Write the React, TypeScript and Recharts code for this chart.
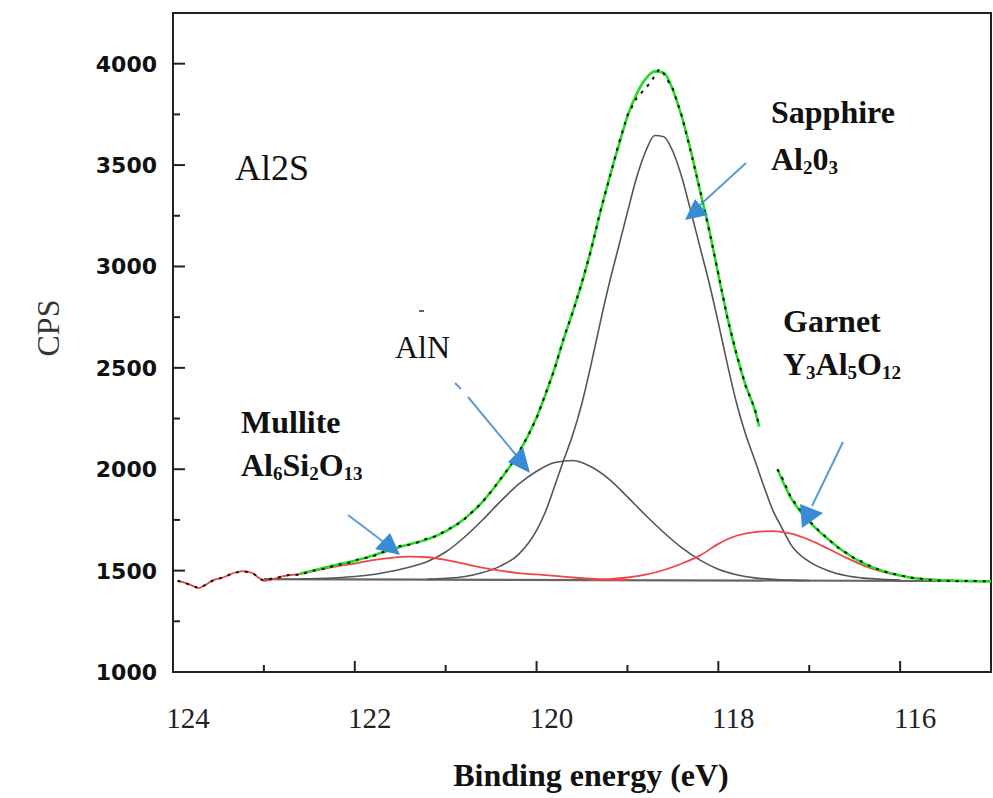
import { LineChart, Line, XAxis, YAxis, ReferenceArea } from "recharts";

// binding energy (eV), counts per second
const rawSpectrum: [number, number | null][] = [
  [123.95, 1450], [123.9, 1444], [123.8, 1428], [123.72, 1414], [123.65, 1428],
  [123.56, 1452], [123.45, 1466], [123.34, 1487], [123.23, 1497], [123.12, 1487],
  [123.05, 1462], [123.0, 1450], [122.9, 1462], [122.8, 1470], [122.7, 1482],
  [122.6, 1478], [122.5, 1496], [122.4, 1505], [122.3, 1512], [122.2, 1530],
  [122.1, 1531], [122.0, 1552], [121.9, 1560], [121.8, 1570], [121.7, 1590],
  [121.6, 1600], [121.5, 1622], [121.4, 1628], [121.3, 1640], [121.2, 1660],
  [121.1, 1670], [121.0, 1698], [120.9, 1720], [120.8, 1750], [120.7, 1793],
  [120.6, 1835], [120.5, 1890], [120.4, 1950], [120.3, 2010], [120.2, 2080],
  [120.1, 2160], [120.0, 2250], [119.9, 2375], [119.8, 2495], [119.7, 2650],
  [119.6, 2775], [119.5, 2925], [119.4, 3080], [119.3, 3270], [119.2, 3430],
  [119.1, 3600], [119.0, 3745], [118.9, 3830], [118.8, 3880], [118.75, 3905],
  [118.7, 3940], [118.65, 3975], [118.6, 3950], [118.5, 3875], [118.4, 3740],
  [118.3, 3560], [118.2, 3375], [118.1, 3175], [118.0, 2965], [117.9, 2745],
  [117.8, 2570], [117.7, 2410], [117.6, 2300], [117.55, 2215], [117.45, null],
  [117.35, 2000], [117.3, 1960], [117.2, 1860], [117.1, 1800], [117.0, 1745],
  [116.9, 1700], [116.8, 1660], [116.7, 1618], [116.6, 1590], [116.5, 1560],
  [116.4, 1540], [116.3, 1515], [116.2, 1500], [116.1, 1486], [116.0, 1478],
  [115.9, 1466], [115.8, 1462], [115.7, 1455], [115.6, 1452], [115.5, 1450],
  [115.4, 1448], [115.2, 1449], [115.0, 1447],
];

const envelope: [number, number | null][] = [
  [122.6, 1486], [122.4, 1507], [122.2, 1529], [122.0, 1548], [121.8, 1575],
  [121.6, 1603], [121.4, 1630], [121.2, 1655], [121.0, 1694], [120.8, 1753],
  [120.6, 1837], [120.4, 1948], [120.2, 2077], [120.0, 2255], [119.9, 2370],
  [119.8, 2500], [119.7, 2644], [119.6, 2780], [119.5, 2920], [119.4, 3085],
  [119.3, 3265], [119.2, 3435], [119.1, 3590], [119.0, 3740], [118.9, 3850],
  [118.8, 3925], [118.7, 3962], [118.6, 3955], [118.5, 3870], [118.4, 3735],
  [118.3, 3565], [118.2, 3370], [118.1, 3180], [118.0, 2960], [117.9, 2750],
  [117.8, 2565], [117.7, 2415], [117.6, 2294], [117.55, 2210], [117.45, null],
  [117.35, 2000], [117.2, 1857], [117.0, 1742], [116.8, 1658], [116.6, 1588],
  [116.4, 1535], [116.2, 1499], [116.0, 1476], [115.8, 1460], [115.6, 1453],
  [115.4, 1450], [115.2, 1448], [115.0, 1447],
];

const background: [number, number][] = [
  [123.0, 1458], [115.0, 1448],
];

const sapphire: [number, number][] = [
  [121.2, 1457], [121.0, 1462], [120.8, 1470], [120.6, 1489], [120.4, 1522],
  [120.2, 1579], [120.0, 1698], [119.9, 1793], [119.8, 1918], [119.7, 2047],
  [119.6, 2172], [119.5, 2327], [119.4, 2517], [119.3, 2722], [119.2, 2917],
  [119.1, 3092], [119.0, 3267], [118.9, 3437], [118.8, 3567], [118.7, 3646],
  [118.6, 3640], [118.5, 3567], [118.4, 3437], [118.3, 3267], [118.2, 3092],
  [118.1, 2917], [118.0, 2722], [117.9, 2517], [117.8, 2327], [117.7, 2172],
  [117.6, 2047], [117.5, 1917], [117.4, 1797], [117.3, 1710], [117.2, 1627],
  [117.0, 1544], [116.8, 1501], [116.6, 1476], [116.4, 1463], [116.2, 1457],
  [116.0, 1454],
];

const aln: [number, number][] = [
  [122.6, 1459], [122.4, 1461], [122.2, 1465], [122.0, 1471], [121.8, 1481],
  [121.6, 1497], [121.4, 1517], [121.2, 1545], [121.0, 1592], [120.8, 1662],
  [120.6, 1747], [120.4, 1840], [120.2, 1925], [120.0, 1990], [119.8, 2033],
  [119.6, 2043], [119.4, 2012], [119.2, 1950], [119.0, 1864], [118.8, 1773],
  [118.6, 1688], [118.4, 1612], [118.2, 1552], [118.0, 1507], [117.8, 1480],
  [117.6, 1464], [117.4, 1457], [117.2, 1453], [117.0, 1451],
];

const mullite: [number, number][] = [
  [123.95, 1450], [123.9, 1444], [123.8, 1428], [123.72, 1414], [123.65, 1428],
  [123.56, 1452], [123.45, 1466], [123.34, 1487], [123.23, 1497], [123.12, 1487],
  [123.05, 1462], [123.0, 1450], [122.9, 1458], [122.8, 1471], [122.6, 1484],
  [122.4, 1503], [122.2, 1521], [122.0, 1535], [121.8, 1552], [121.6, 1563],
  [121.4, 1569], [121.2, 1566], [121.0, 1553], [120.8, 1534], [120.6, 1515],
  [120.4, 1500], [120.2, 1488], [120.0, 1481], [119.8, 1474], [119.6, 1466],
  [119.4, 1460], [119.2, 1456], [119.0, 1454],
];

const garnet: [number, number][] = [
  [119.4, 1454], [119.2, 1458], [119.0, 1466], [118.8, 1480], [118.6, 1503],
  [118.4, 1535], [118.2, 1575], [118.0, 1632], [117.8, 1672], [117.6, 1690],
  [117.4, 1695], [117.2, 1682], [117.0, 1652], [116.8, 1610], [116.6, 1565],
  [116.4, 1525], [116.2, 1495], [116.0, 1475], [115.8, 1462], [115.6, 1455],
  [115.4, 1452],
];

const xTicks = [124, 123, 122, 121, 120, 119, 118, 117, 116, 115];
const yTicks = [1000, 1250, 1500, 1750, 2000, 2250, 2500, 2750, 3000, 3250, 3500, 3750, 4000];

const toPoints = (rows: [number, number | null][]) => rows.map(([ev, cps]) => ({ ev, cps }));

const serif = "'Liberation Serif', 'Times New Roman', serif";

function XTick(props: any) {
  const { x, y, payload } = props;
  const major = payload.value % 2 === 0;
  return (
    <g>
      <line x1={x} x2={x} y1={y} y2={y - (major ? 11 : 7)} stroke="#222" strokeWidth={2} />
      {major && (
        <text x={x + 15} y={y + 56} textAnchor="middle" fontFamily={serif} fontSize={29} fill="#222">
          {payload.value}
        </text>
      )}
    </g>
  );
}

function YTick(props: any) {
  const { x, y, payload } = props;
  const major = payload.value % 500 === 0;
  return (
    <g>
      <line x1={x} x2={x + (major ? 12 : 7)} y1={y} y2={y} stroke="#222" strokeWidth={2} />
      {major && (
        <text x={x - 16} y={y} dy="0.36em" textAnchor="end" fontFamily="'DejaVu Sans', sans-serif"
          fontWeight="bold" fontSize={22} fill="#111">
          {payload.value}
        </text>
      )}
    </g>
  );
}

function Sub({ children }: { children: string }) {
  return <tspan fontSize={19} dy={4}>{children}</tspan>;
}

function Arrow({ from, to, head }: { from: number[]; to: number[]; head: number[][] }) {
  return (
    <g>
      <line x1={from[0]} y1={from[1]} x2={to[0]} y2={to[1]} stroke="#5b9bd5" strokeWidth={2} />
      <polygon points={head.map((p) => p.join(",")).join(" ")} fill="#3a8ad6" />
    </g>
  );
}

function Annotations() {
  return (
    <svg width={993} height={798} style={{ position: "absolute", left: 0, top: 0, pointerEvents: "none" }}>
      <text x={48} y={328} transform="rotate(-90 48 328)" textAnchor="middle" dominantBaseline="central"
        fontFamily={serif} fontSize={32} fill="#333">CPS</text>
      <text x={591} y={786} textAnchor="middle" fontFamily={serif} fontWeight="bold" fontSize={32} fill="#111">
        Binding energy (eV)
      </text>

      <text x={235} y={180} fontFamily={serif} fontSize={36} fill="#111">Al2S</text>
      <text x={395} y={358} fontFamily={serif} fontSize={32} fill="#111">AlN</text>
      <line x1={419} y1={311} x2={424} y2={311} stroke="#333" strokeWidth={1.5} />

      <g fontFamily={serif} fontWeight="bold" fontSize={32} fill="#111">
        <text x={771} y={123}>Sapphire</text>
        <text x={771} y={170}>Al<Sub>2</Sub><tspan dy={-4}>0</tspan><Sub>3</Sub></text>
        <text x={783} y={332}>Garnet</text>
        <text x={783} y={375}>Y<Sub>3</Sub><tspan dy={-4}>Al</tspan><Sub>5</Sub><tspan dy={-4}>O</tspan><Sub>12</Sub></text>
        <text x={241} y={433}>Mullite</text>
        <text x={241} y={476}>Al<Sub>6</Sub><tspan dy={-4}>Si</tspan><Sub>2</Sub><tspan dy={-4}>O</tspan><Sub>13</Sub></text>
      </g>

      <Arrow from={[746, 163]} to={[699, 206]} head={[[685, 220], [708, 215], [695, 199]]} />
      <line x1={455} y1={383} x2={461} y2={389} stroke="#5b9bd5" strokeWidth={2} />
      <Arrow from={[468, 397]} to={[516, 455]} head={[[530, 473], [508, 462], [523, 447]]} />
      <Arrow from={[348, 515]} to={[385, 543]} head={[[400, 555], [375, 549], [390, 533]]} />
      <Arrow from={[843, 442]} to={[812, 506]} head={[[802, 528], [800, 504], [823, 513]]} />
    </svg>
  );
}

export default function App() {
  return (
    <div style={{ position: "absolute", left: 0, top: 0, width: 993, height: 798, background: "#fff" }}>
      <LineChart width={993} height={798} margin={{ top: 13, right: 2, bottom: 0, left: 0 }}>
        <XAxis
          dataKey="ev"
          type="number"
          domain={[115, 124]}
          reversed
          allowDataOverflow
          ticks={xTicks}
          interval={0}
          height={126}
          axisLine={false}
          tickLine={false}
          tickSize={0}
          tickMargin={0}
          tick={<XTick />}
        />
        <YAxis
          type="number"
          domain={[1000, 4250]}
          allowDataOverflow
          ticks={yTicks}
          interval={0}
          width={173}
          axisLine={false}
          tickLine={false}
          tickSize={0}
          tickMargin={0}
          tick={<YTick />}
        />
        <ReferenceArea x1={124} x2={115} y1={1000} y2={4250} fill="none" stroke="#222" strokeWidth={2} />
        <Line data={toPoints(background)} dataKey="cps" type="linear" stroke="#666" strokeWidth={2.2} dot={false} activeDot={false} isAnimationActive={false} />
        <Line data={toPoints(aln)} dataKey="cps" type="monotone" stroke="#555" strokeWidth={1.6} dot={false} activeDot={false} isAnimationActive={false} />
        <Line data={toPoints(sapphire)} dataKey="cps" type="monotone" stroke="#555" strokeWidth={1.6} dot={false} activeDot={false} isAnimationActive={false} />
        <Line data={toPoints(mullite)} dataKey="cps" type="monotone" stroke="#f04545" strokeWidth={1.8} dot={false} activeDot={false} isAnimationActive={false} />
        <Line data={toPoints(garnet)} dataKey="cps" type="monotone" stroke="#f04545" strokeWidth={1.8} dot={false} activeDot={false} isAnimationActive={false} />
        <Line data={toPoints(envelope)} dataKey="cps" type="monotone" stroke="#1fe01f" strokeWidth={2.6} dot={false} activeDot={false} isAnimationActive={false} />
        <Line data={toPoints(rawSpectrum)} dataKey="cps" type="linear" stroke="#111" strokeWidth={2} strokeDasharray="3 6" dot={false} activeDot={false} isAnimationActive={false} />
      </LineChart>
      <Annotations />
    </div>
  );
}
